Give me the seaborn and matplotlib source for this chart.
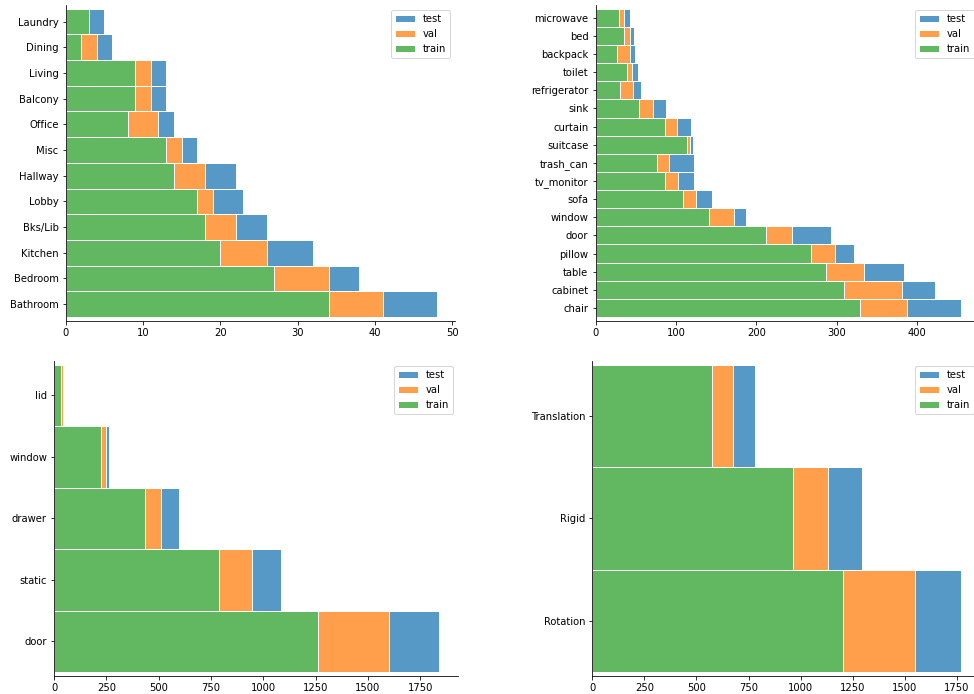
import matplotlib
matplotlib.use("Agg")
import matplotlib.pyplot as plt
import pandas as pd
import seaborn as sns

SPLITS = ["test", "val", "train"]

# Scene types
room_names = ["Laundry", "Dining", "Living", "Balcony", "Office", "Misc",
              "Hallway", "Lobby", "Bks/Lib", "Kitchen", "Bedroom", "Bathroom"]
room_train = [3, 2, 9, 9, 8, 13, 14, 17, 18, 20, 27, 34]
room_val = [0, 2, 2, 2, 4, 2, 4, 2, 4, 6, 7, 7]
room_test = [2, 2, 2, 2, 2, 2, 4, 4, 4, 6, 4, 7]

# Object categories
obj_names = ["microwave", "bed", "backpack", "toilet", "refrigerator", "sink",
             "curtain", "suitcase", "trash_can", "tv_monitor", "sofa", "window",
             "door", "pillow", "table", "cabinet", "chair"]
obj_train = [29, 36, 27, 39, 31, 54, 86, 114, 77, 87, 109, 141, 212, 268, 287, 309, 329]
obj_val = [6, 7, 16, 7, 16, 17, 15, 4, 15, 16, 16, 31, 33, 30, 47, 72, 59]
obj_test = [8, 5, 6, 7, 10, 17, 18, 3, 31, 20, 20, 15, 48, 24, 50, 42, 67]

# Articulated parts
part_names = ["lid", "window", "drawer", "static", "door"]
part_train = [35, 226, 436, 787, 1260]
part_val = [8, 22, 75, 157, 340]
part_test = [6, 15, 86, 142, 239]

# Motion types
motion_names = ["Translation", "Rigid", "Rotation"]
motion_train = [574, 965, 1205]
motion_val = [100, 165, 342]
motion_test = [106, 163, 222]


def long_table(names, train, val, test):
    rows = []
    for i, name in enumerate(names):
        for split, vals in zip(SPLITS, (test, val, train)):
            rows.append({"category": name, "split": split, "count": vals[i]})
    return pd.DataFrame(rows)


panels = [
    (long_table(room_names, room_train, room_val, room_test), len(room_names)),
    (long_table(obj_names, obj_train, obj_val, obj_test), len(obj_names)),
    (long_table(part_names, part_train, part_val, part_test), len(part_names)),
    (long_table(motion_names, motion_train, motion_val, motion_test), len(motion_names)),
]

W, H = 974, 694
DPI = 72
fig = plt.figure(figsize=(W / DPI, H / DPI), dpi=DPI)

# axes boxes in pixels: left, right, top, bottom
boxes = [
    (65.7, 455.3, 5.0, 320.7),
    (595.5, 979.5, 5.0, 320.7),
    (54.0, 458.2, 361.0, 675.7),
    (592.3, 979.3, 361.0, 675.7),
]

for (df, n), (l, r, t, b) in zip(panels, boxes):
    ax = fig.add_axes([l / W, 1 - b / H, (r - l) / W, (b - t) / H])
    sns.histplot(data=df, y="category", hue="split", weights="count",
                 hue_order=SPLITS, multiple="stack", discrete=True, shrink=1,
                 edgecolor="white", linewidth=1, ax=ax)
    m = 0.012 * n
    ax.set_ylim(n - 0.5 + m, -0.5 - m)
    ax.set_xlabel("")
    ax.set_ylabel("")
    sns.move_legend(ax, "upper right", title=None)
    sns.despine(ax=ax)

fig.savefig("out.png", dpi=DPI)
